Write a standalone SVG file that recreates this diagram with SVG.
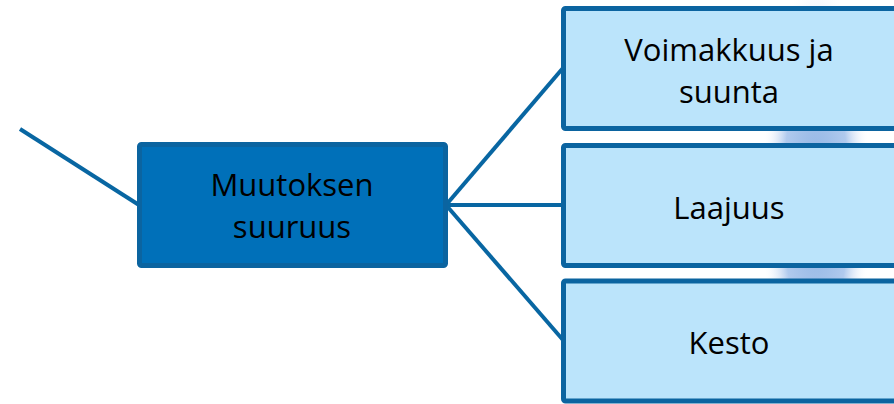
<svg xmlns="http://www.w3.org/2000/svg" width="894" height="404" viewBox="0 0 894 404">
<style>
.c{fill:none;stroke:#0866a2;stroke-width:4}
.main{fill:#0070b9;stroke:#0b64a0;stroke-width:5}
.leaf{fill:#bbe4fb;stroke:#0b64a0;stroke-width:5}
text{font-family:"Open Sans","Liberation Sans",sans-serif;font-size:31px;fill:#000;text-anchor:middle}
</style>
<defs>
<radialGradient id="bg" cx="0.5" cy="0.5" r="0.5">
<stop offset="0" stop-color="#5a90d6"/>
<stop offset="0.6" stop-color="#8fb3e6"/>
<stop offset="1" stop-color="#ffffff" stop-opacity="0"/>
</radialGradient>
</defs>
<ellipse cx="816" cy="200" rx="55" ry="225" fill="url(#bg)" opacity="0.7"/>
<g id="connectors">
<line class="c" x1="20" y1="129" x2="139" y2="205"/>
<line class="c" x1="446" y1="205" x2="563" y2="68"/>
<line class="c" x1="446" y1="205" x2="563" y2="205"/>
<line class="c" x1="446" y1="205" x2="563" y2="340"/>
</g>
<g id="n-main"><rect class="main" x="139.5" y="144.5" width="306" height="121" rx="2"/>
<text x="292" y="196">Muutoksen</text><text x="292" y="238">suuruus</text></g>
<g id="n-voimakkuus"><rect class="leaf" x="563.5" y="8.5" width="340" height="120" rx="2"/>
<text x="729" y="61">Voimakkuus ja</text><text x="729" y="103">suunta</text></g>
<g id="n-laajuus"><rect class="leaf" x="563.5" y="145.5" width="340" height="120" rx="2"/>
<text x="729" y="219">Laajuus</text></g>
<g id="n-kesto"><rect class="leaf" x="563.5" y="281" width="340" height="120" rx="2"/>
<text x="729" y="354">Kesto</text></g>
</svg>
